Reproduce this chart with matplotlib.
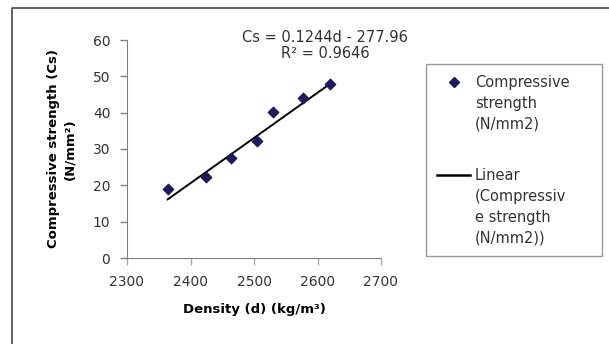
import numpy as np
import matplotlib.pyplot as plt
from matplotlib.lines import Line2D
from matplotlib.legend_handler import HandlerLine2D

# data
density = [2364, 2424, 2464, 2505, 2530, 2577, 2620]
strength = [19.0, 22.4, 27.6, 32.1, 40.3, 43.9, 47.8]
slope, intercept = 0.1244, -277.96
eq_text = "Cs = 0.1244d - 277.96\nR² = 0.9646"
x_ticks = [2300, 2400, 2500, 2600, 2700]
y_ticks = [0, 10, 20, 30, 40, 50, 60]
leg_labels = ['Compressive\nstrength\n(N/mm2)', 'Linear\n(Compressiv\ne strength\n(N/mm2))']

plt.rcParams['font.family'] = 'DejaVu Sans'


class TopHandler(HandlerLine2D):
    # put the legend key next to the first line of a wrapped label (like Excel)
    def __init__(self, shift, **kw):
        super().__init__(**kw)
        self.shift = shift

    def create_artists(self, legend, orig_handle, xdescent, ydescent, width, height,
                       fontsize, trans):
        arts = super().create_artists(legend, orig_handle, xdescent, ydescent, width,
                                      height, fontsize, trans)
        for a in arts:
            a.set_ydata(np.asarray(a.get_ydata()) + self.shift)
        return arts


fig = plt.figure(figsize=(6.09, 3.44), dpi=100)
fig.patch.set_facecolor('white')

# chart area border (left + top, as in the picture)
fig.lines.append(Line2D([12/609, 12/609, 1.0], [0, 1-8/344, 1-8/344],
                        transform=fig.transFigure, color='#555555', lw=1.3))

ax = fig.add_axes([127/609, 1-258/344, 254/609, 218/344])

ax.scatter(density, strength, marker='D', s=28, color='#1c1c5c', zorder=3)
xl = np.array([min(density), max(density)])
ax.plot(xl, slope*xl + intercept, color='black', lw=1.4)

ax.set_xlim(2300, 2700)
ax.set_ylim(0, 60)
ax.set_xticks(x_ticks)
ax.set_yticks(y_ticks)
ax.tick_params(labelsize=10, length=5, width=1, direction='out', pad=7)
ax.tick_params(axis='x', colors='#aaaaaa', labelcolor='#333333')
ax.tick_params(axis='y', colors='#808080', labelcolor='#333333')
for s in ['top', 'right']:
    ax.spines[s].set_visible(False)
ax.spines['left'].set_color('#808080')
ax.spines['bottom'].set_color('#808080')

ax.set_xlabel('Density (d) (kg/m³)', fontsize=9.5, fontweight='bold', labelpad=10)
ax.set_ylabel('Compressive strength (Cs)\n(N/mm²)', fontsize=9.5, fontweight='bold',
              linespacing=1.35, labelpad=12)

ax.text(2612, 58.5, eq_text, ha='center', va='center', fontsize=10.5, color='#333333',
        linespacing=1.15)

h_pts = Line2D([], [], marker='D', ls='', markersize=5, color='#1c1c5c')
h_lin = Line2D([], [], color='black', lw=1.8)
leg = ax.legend([h_pts, h_lin], leg_labels,
                handler_map={h_pts: TopHandler(15.5), h_lin: TopHandler(23.5)},
                loc='upper left', bbox_to_anchor=(426/609, 1-64/344, 176/609, 0.0),
                mode='expand', bbox_transform=fig.transFigure, fontsize=10.5,
                frameon=True, fancybox=False, edgecolor='#808080', handlelength=2.3,
                labelspacing=2.55, borderpad=0.75, handletextpad=0.3, borderaxespad=0)
leg.get_frame().set_linewidth(1.0)
for t in leg.get_texts():
    t.set_color('#333333')
    t.set_linespacing(1.47)

fig.savefig('out.png', dpi=100)
